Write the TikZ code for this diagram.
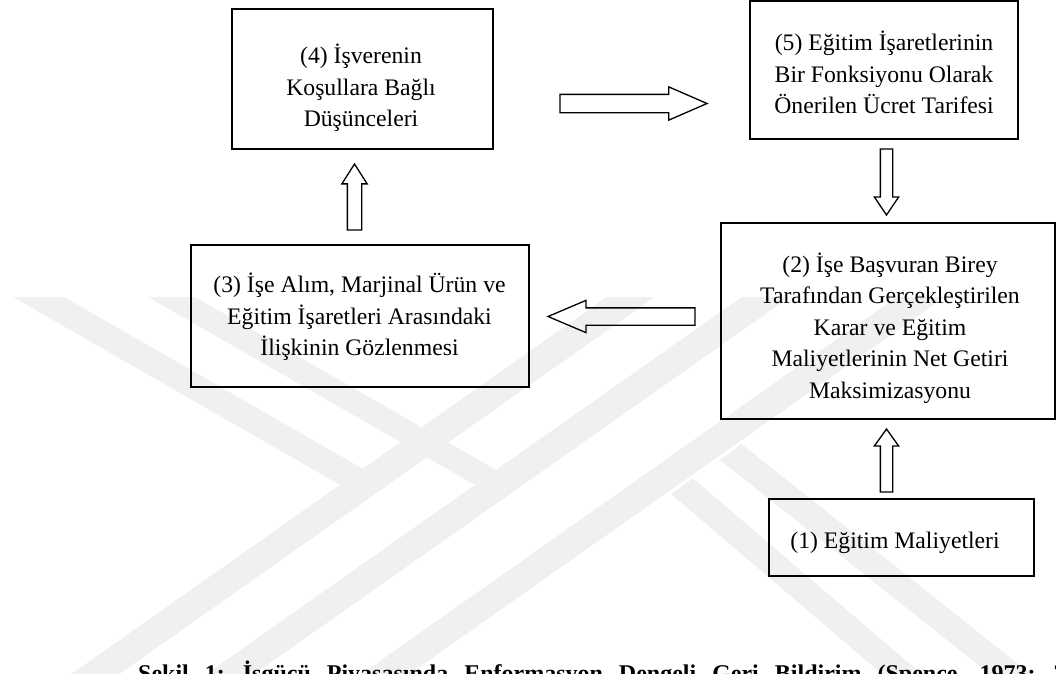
\documentclass[tikz,border=0pt]{standalone}
\usepackage{fontspec}
\setmainfont{Liberation Serif}
\usetikzlibrary{shapes.arrows}
\newcommand{\topst}{\rule{0pt}{21pt}}
\newcommand{\botst}{\rule[-6pt]{0pt}{6pt}}
\begin{document}
\begin{tikzpicture}[x=1pt,y=-1pt]
\tikzset{
  box/.style={draw, line width=2pt, minimum width=#1, inner sep=0pt},
  txt/.style={align=center, font=\fontsize{23.7}{31.5}\selectfont, inner sep=0pt},
  blk/.style={draw, line width=1.3pt, single arrow, inner xsep=0pt, anchor=tail, outer sep=0pt},
  captxt/.style={font=\fontsize{24}{28}\selectfont\bfseries, inner sep=0pt, anchor=base west},
  wm/.style={fill=black!6, draw=none}
}
\useasboundingbox (0,0) rectangle (1056,673);
\clip (0,0) rectangle (1056,673);
% watermark
\fill[wm] (34.5,700) -- (82.5,700) -- (654.7,297) -- (606.7,297) -- cycle;
\fill[wm] (169.5,700) -- (217.5,700) -- (789.7,297) -- (741.7,297) -- cycle;
\fill[wm] (324.5,700) -- (372.5,700) -- (944.7,297) -- (896.7,297) -- cycle;
\fill[wm] (13,297) -- (64,297) -- (362.9,468.8) -- (340,484.9) -- cycle;
\fill[wm] (148,297) -- (195,297) -- (496,470) -- (474.9,484.9) -- cycle;
\fill[wm] (720,460) -- (741.5,444) -- (1063.6,700) -- (1022.6,700) -- cycle;
\fill[wm] (671,494) -- (693,478.4) -- (952.3,700) -- (912.3,700) -- cycle;
% boxes
\node[box=261pt, minimum height=140pt] (b4) at (362.2,79.4) {};
\node[box=268.3pt, minimum height=138.8pt] (b5) at (884.2,70) {};
\node[box=334pt, minimum height=196pt] (b2) at (887.5,321.3) {};
\node[box=338pt, minimum height=141.7pt] (b3) at (359.6,315.8) {};
\node[box=265pt, minimum height=77pt] (b1) at (901.5,537.5) {};
% texts
\node[txt] (t4) at (361,87.5) {\topst(4) İşverenin\\Koşullara Bağlı\\Düşünceleri\botst};
\node[txt] (t5) at (884,74.5) {\topst(5) Eğitim İşaretlerinin\\Bir Fonksiyonu Olarak\\Önerilen Ücret Tarifesi\botst};
\node[txt] (t2) at (890,327.8) {\topst(2) İşe Başvuran Birey\\Tarafından Gerçekleştirilen\\Karar ve Eğitim\\Maliyetlerinin Net Getiri\\Maksimizasyonu\botst};
\node[txt] (t3) at (359.5,316.5) {\topst(3) İşe Alım, Marjinal Ürün ve\\Eğitim İşaretleri Arasındaki\\İlişkinin Gözlenmesi\botst};
\node[txt] (t1) at (895,541) {\topst(1) Eğitim Maliyetleri\botst};
% block arrows (placed by their tails)
\node[blk, inner ysep=8.5pt, minimum height=147pt, minimum width=32pt, single arrow head extend=7.5pt, single arrow tip angle=47] (a45) at (560,103.5) {};
\node[blk, inner ysep=5.5pt, rotate=-90, minimum height=66pt, minimum width=23pt, single arrow head extend=6pt, single arrow tip angle=68] (a52) at (886.5,149) {};
\node[blk, inner ysep=6.5pt, rotate=90, minimum height=66pt, minimum width=24pt, single arrow head extend=5.5pt, single arrow tip angle=65] (a34) at (354.5,230) {};
\node[blk, inner ysep=8pt, rotate=180, minimum height=147pt, minimum width=31pt, single arrow head extend=7.5pt, single arrow tip angle=46] (a23) at (695,316.5) {};
\node[blk, inner ysep=5.5pt, rotate=90, minimum height=63pt, minimum width=23pt, single arrow head extend=6pt, single arrow tip angle=71] (a12) at (886.5,492) {};
% caption
\node[captxt] (caption) at (138,681) {\spaceskip=16pt Şekil 1: İşgücü Piyasasında Enformasyon Dengeli Geri Bildirim (Spence, 1973: 35)};
\end{tikzpicture}
\end{document}
